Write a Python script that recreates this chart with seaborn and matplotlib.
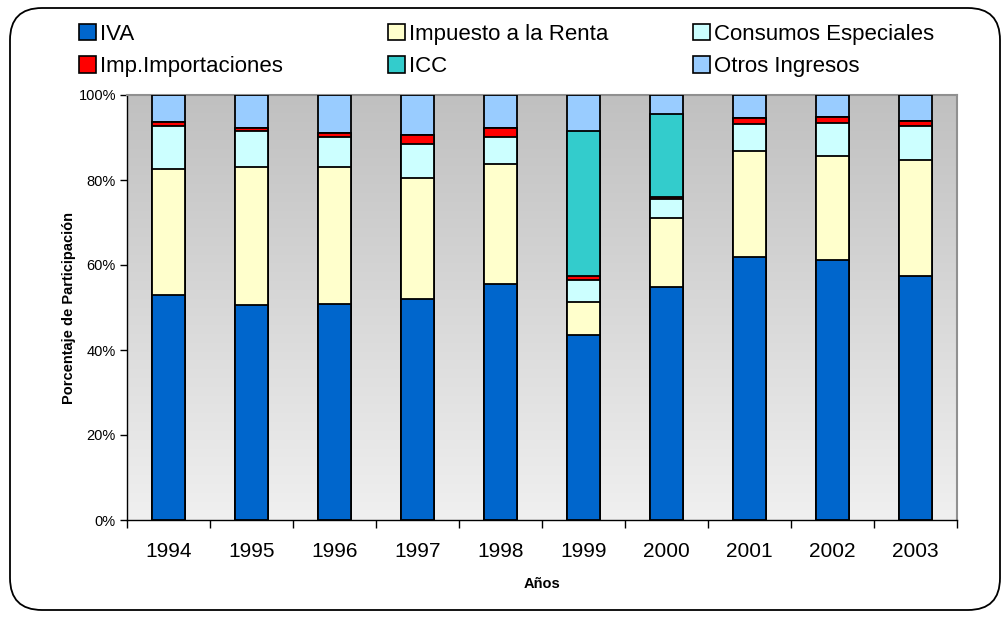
import numpy as np
import pandas as pd
import seaborn as sns
import matplotlib.pyplot as plt
from matplotlib.patches import Patch, FancyBboxPatch
from matplotlib.colors import LinearSegmentedColormap
from matplotlib.ticker import FixedLocator

years = ['1994', '1995', '1996', '1997', '1998', '1999', '2000', '2001', '2002', '2003']
iva = [52.9, 50.6, 50.8, 51.9, 55.5, 43.5, 54.9, 61.8, 61.2, 57.3]
renta = [29.6, 32.5, 32.3, 28.6, 28.3, 7.9, 16.1, 25.0, 24.4, 27.4]
consumos = [10.3, 8.5, 7.1, 8.0, 6.4, 5.1, 4.5, 6.4, 7.7, 8.1]
importaciones = [0.8, 0.6, 0.8, 2.2, 2.0, 0.8, 0.6, 1.3, 1.6, 1.2]
icc = [0.0, 0.0, 0.0, 0.0, 0.0, 34.3, 19.4, 0.0, 0.0, 0.0]
otros = [6.4, 7.8, 9.0, 9.3, 7.8, 8.4, 4.5, 5.5, 5.1, 6.0]

series = ['IVA', 'Impuesto a la Renta', 'Consumos Especiales', 'Imp.Importaciones', 'ICC', 'Otros Ingresos']
colors = ['#0066CC', '#FFFFCC', '#CCFFFF', '#FF0000', '#33CCCC', '#99CCFF']

df = pd.DataFrame({'Año': years, 'IVA': iva, 'Impuesto a la Renta': renta,
                   'Consumos Especiales': consumos, 'Imp.Importaciones': importaciones,
                   'ICC': icc, 'Otros Ingresos': otros})
vals = df[series]
pct = vals.div(vals.sum(axis=1), axis=0) * 100
cum = pct.cumsum(axis=1)

plt.rcParams['font.family'] = ['Liberation Sans', 'DejaVu Sans']

fig = plt.figure(figsize=(10.08, 6.17), dpi=100)
ax = fig.add_axes([127 / 1008, 97 / 617, 830 / 1008, 425 / 617])

# stacked bars: draw cumulative tops from the top layer down
for name, col in reversed(list(zip(series, colors))):
    sns.barplot(x=df['Año'], y=cum[name], color=col, saturation=1, width=0.4,
                edgecolor='black', linewidth=1.3, errorbar=None, ax=ax, zorder=3)

# gray gradient background
grad = np.linspace(0, 1, 256).reshape(-1, 1)
cmap = LinearSegmentedColormap.from_list('g', ['#F0F0F0', '#C0C0C0'])
ax.imshow(grad, extent=[0, 1, 0, 1], transform=ax.transAxes, aspect='auto',
          cmap=cmap, origin='lower', zorder=0)
ax.set_xlim(-0.5, 9.5)
ax.set_ylim(0, 100)

ax.set_yticks([0, 20, 40, 60, 80, 100])
ax.set_yticklabels(['0%', '20%', '40%', '60%', '80%', '100%'], fontsize=10.5)
ax.tick_params(axis='y', direction='out', length=5, width=1, pad=3)
ax.tick_params(axis='x', which='major', length=0, labelsize=15, pad=16)
ax.xaxis.set_minor_locator(FixedLocator(np.arange(-0.5, 10, 1)))
ax.tick_params(axis='x', which='minor', direction='out', length=6, width=1)

for s in ['left', 'bottom']:
    ax.spines[s].set_color('black')
    ax.spines[s].set_linewidth(1)
for s in ['top', 'right']:
    ax.spines[s].set_color('#909090')
    ax.spines[s].set_linewidth(1.5)

ax.set_xlabel('Años', fontsize=10.5, fontweight='bold', labelpad=11)
ax.set_ylabel('Porcentaje de Participación', fontsize=10.5, fontweight='bold', labelpad=2)

# legend: three columns of two entries
handles = [Patch(facecolor=c, edgecolor='black', linewidth=1.2) for c in colors]
col_x = [79, 388, 693]
for i in range(3):
    fig.legend([handles[i], handles[i + 3]], [series[i], series[i + 3]],
               loc='upper left', bbox_to_anchor=(col_x[i] / 1008, (617 - 24) / 617),
               frameon=False, fontsize=16, handlelength=0.75, handleheight=0.75,
               handletextpad=0.2, labelspacing=0.5, borderpad=0, borderaxespad=0)

# rounded outer frame
frame = FancyBboxPatch((10, 7), 990, 602, boxstyle='round,pad=0,rounding_size=32',
                       transform=None, facecolor='none', edgecolor='black', linewidth=1.3)
fig.patches.append(frame)

fig.savefig('out.png', dpi=100)
